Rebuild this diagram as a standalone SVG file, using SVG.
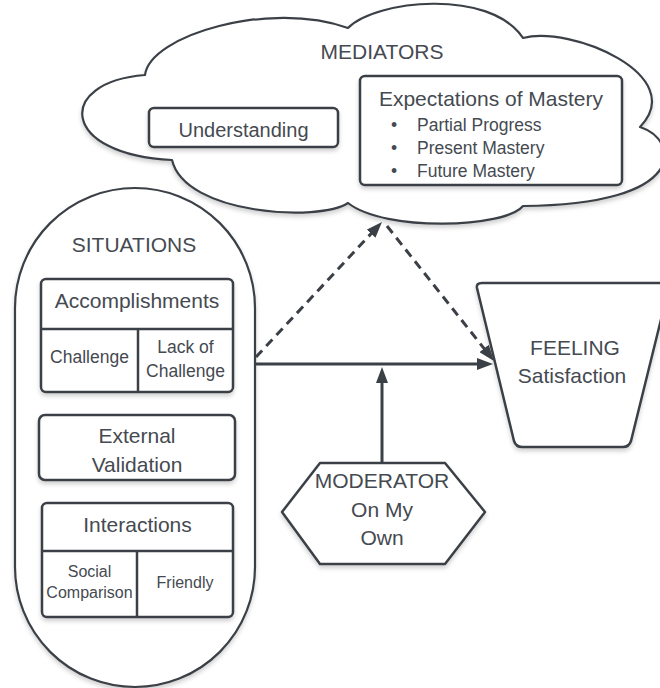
<svg xmlns="http://www.w3.org/2000/svg" width="660" height="688" viewBox="0 0 660 688">
  <style>
    .shape { fill: #ffffff; stroke: #3b4047; stroke-width: 2.5; stroke-linejoin: round; }
    .thin { fill: #ffffff; stroke: #3b4047; stroke-width: 2.2; stroke-linejoin: round; }
    .div { fill: none; stroke: #3b4047; stroke-width: 2.5; }
    .t { font-family: "Liberation Sans", Arial, sans-serif; fill: #454a51; text-anchor: middle; }
    .tl { font-family: "Liberation Sans", Arial, sans-serif; fill: #454a51; }
    .conn { fill: none; stroke: #3b4047; stroke-width: 3; }
    .dash { stroke-dasharray: 9 6; }
  </style>
  <defs>
    <filter id="sh" x="-10%" y="-10%" width="120%" height="130%">
      <feDropShadow dx="0" dy="3" stdDeviation="2" flood-color="#000000" flood-opacity="0.18"/>
    </filter>
    <marker id="ah" viewBox="0 0 16 12" refX="3" refY="6" markerWidth="16" markerHeight="12" markerUnits="userSpaceOnUse" orient="auto">
      <path d="M0,0 L16,6 L0,12 Z" fill="#3b4047"/>
    </marker>
  </defs>

  <g id="mediators">
    <path class="thin" filter="url(#sh)" d="M145,75 C150,35 270,0 348,28 C375,0 490,-12 523,38 C570,25 690,75 640,127 C680,140 690,205 523,206 C505,228 385,232 348,203 C320,222 185,215 172,160 C60,155 55,82 145,75 Z"/>
    <text class="t" x="382" y="59" font-size="21">MEDIATORS</text>
  </g>

  <g id="understanding">
    <rect class="shape" filter="url(#sh)" x="149" y="108" width="189" height="39" rx="5"/>
    <text class="t" x="243.5" y="137" font-size="20">Understanding</text>
  </g>

  <g id="expectations">
    <rect class="shape" filter="url(#sh)" x="360" y="76" width="262" height="109" rx="5"/>
    <text class="t" x="491" y="106" font-size="21">Expectations of Mastery</text>
    <text class="tl" x="391" y="131" font-size="17.5">•</text>
    <text class="tl" x="417" y="131" font-size="17.5">Partial Progress</text>
    <text class="tl" x="391" y="154" font-size="17.5">•</text>
    <text class="tl" x="417" y="154" font-size="17.5">Present Mastery</text>
    <text class="tl" x="391" y="177" font-size="17.5">•</text>
    <text class="tl" x="417" y="177" font-size="17.5">Future Mastery</text>
  </g>

  <g id="situations">
    <path class="thin" filter="url(#sh)" d="M15,308 A120,120 0 0 1 255,308 L255,567 A120,120 0 0 1 15,567 Z"/>
    <text class="t" x="134" y="252" font-size="21">SITUATIONS</text>
  </g>

  <g id="accomplishments">
    <rect class="shape" filter="url(#sh)" x="41" y="279" width="192" height="113" rx="5"/>
    <line class="div" x1="41" y1="329" x2="233" y2="329"/>
    <line class="div" x1="138" y1="329" x2="138" y2="392"/>
    <text class="t" x="137" y="308" font-size="21">Accomplishments</text>
    <text class="t" x="89.5" y="363" font-size="17.5">Challenge</text>
    <text class="t" x="185.5" y="353" font-size="17.5">Lack of</text>
    <text class="t" x="185.5" y="377" font-size="17.5">Challenge</text>
  </g>

  <g id="external-validation">
    <rect class="shape" filter="url(#sh)" x="39" y="415" width="196" height="65" rx="6"/>
    <text class="t" x="137" y="443" font-size="21">External</text>
    <text class="t" x="137" y="472" font-size="21">Validation</text>
  </g>

  <g id="interactions">
    <rect class="shape" filter="url(#sh)" x="42" y="503" width="191" height="114" rx="5"/>
    <line class="div" x1="42" y1="551" x2="233" y2="551"/>
    <line class="div" x1="137" y1="551" x2="137" y2="617"/>
    <text class="t" x="137.5" y="532" font-size="21">Interactions</text>
    <text class="t" x="89.5" y="577" font-size="16">Social</text>
    <text class="t" x="89.5" y="598" font-size="16">Comparison</text>
    <text class="t" x="185" y="588" font-size="16">Friendly</text>
  </g>

  <g id="feeling">
    <path class="shape" filter="url(#sh)" d="M477,288 Q476,283 482,283 L670,283 L631,441 Q629,447 623,447 L522,447 Q516,447 514,441 Z"/>
    <text class="t" x="575" y="355" font-size="21">FEELING</text>
    <text class="t" x="572" y="383" font-size="21">Satisfaction</text>
  </g>

  <g id="moderator">
    <path class="shape" filter="url(#sh)" d="M320,463 L445,463 L485,512 L445,564 L320,564 L282,512 Z"/>
    <text class="t" x="382" y="488" font-size="21">MODERATOR</text>
    <text class="t" x="382" y="517" font-size="21">On My</text>
    <text class="t" x="382" y="545" font-size="21">Own</text>
  </g>

  <g id="connectors">
    <line class="conn" x1="255" y1="364" x2="480" y2="364" marker-end="url(#ah)"/>
    <line class="conn" x1="382" y1="462" x2="382" y2="380" marker-end="url(#ah)"/>
    <line class="conn dash" x1="256" y1="357" x2="373.1" y2="231.5" marker-end="url(#ah)"/>
    <line class="conn dash" x1="387" y1="226" x2="485.9" y2="350.8" marker-end="url(#ah)"/>
  </g>
</svg>
